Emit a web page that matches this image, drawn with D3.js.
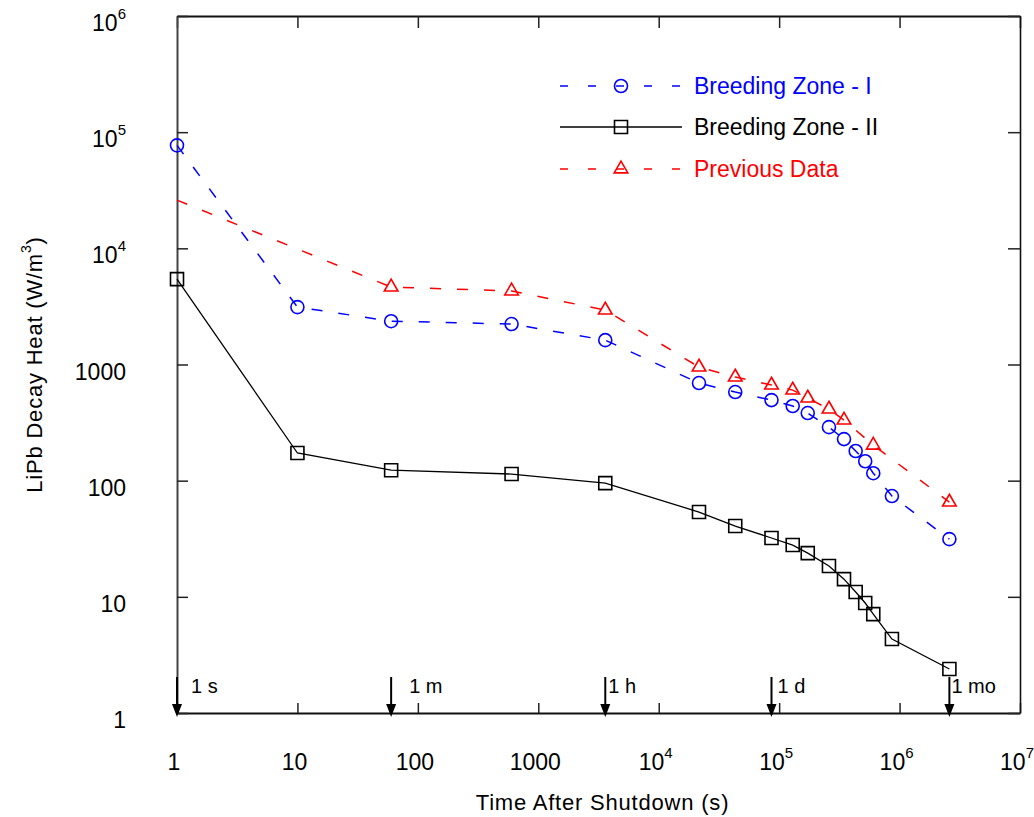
<!DOCTYPE html>
<html>
<head>
<meta charset="utf-8">
<script src="https://cdn.jsdelivr.net/npm/d3@7"></script>
<style>
  html, body { margin: 0; padding: 0; background: #fff; }
  svg { display: block; font-family: Arial, "Liberation Sans", sans-serif; }
</style>
</head>
<body>
<svg id="chart" width="1034" height="817"></svg>
<script>
// ---------- DATA ----------
const timesZone = [1, 10, 60, 600, 3600, 21600, 43200, 86400, 129600, 172800, 259200, 345600, 432000, 518400, 604800, 864000, 2592000];
const zone1 = [77000, 3120, 2360, 2230, 1620, 692, 579, 494, 439, 382, 289, 228, 180, 147, 116, 73.7, 31.4];
const zone2 = [5430, 173, 123, 114, 95.3, 53.7, 40.7, 32.1, 27.9, 23.8, 18.4, 14.2, 11.0, 8.85, 7.1, 4.33, 2.39];
const timesPrev = [1, 60, 600, 3600, 21600, 43200, 86400, 129600, 172800, 259200, 345600, 604800, 2592000];
const prevData = [26000, 4640, 4290, 2940, 950, 779, 665, 602, 514, 413, 332, 202, 65.4];
const prevNoMarker = [0]; // first point of previous data has no marker

const seriesNames = ["Breeding Zone - I", "Breeding Zone - II", "Previous Data"];

const xTickValues = [1, 10, 100, 1000, 1e4, 1e5, 1e6, 1e7];
const xTickLabels = [["1"], ["10"], ["100"], ["1000"], ["10", "4"], ["10", "5"], ["10", "6"], ["10", "7"]];
const yTickValues = [1, 10, 100, 1000, 1e4, 1e5, 1e6];
const yTickLabels = [["1"], ["10"], ["100"], ["1000"], ["10", "4"], ["10", "5"], ["10", "6"]];

const markTimes = [1, 60, 3600, 86400, 2592000];
const markLabels = ["1 s", "1 m", "1 h", "1 d", "1 mo"];

const xTitle = "Time After Shutdown (s)";
const yTitle = ["LiPb Decay Heat (W/m", "3", ")"];

// ---------- LAYOUT ----------
const L = 177, R = 1020, T = 16, B = 713;
const markLabelDx = [14, 18, 3, 6, 2];
const BLUE = "#0000ff", RED = "#ff0000", BLACK = "#000";

const svg = d3.select("#chart");
const x = d3.scaleLog().domain([1, 1e7]).range([L, R]);
const y = d3.scaleLog().domain([1, 1e6]).range([B, T]);

// axes
const gBottom = svg.append("g").attr("transform", `translate(0,${B})`)
  .call(d3.axisBottom(x).tickValues(xTickValues).tickSize(-10).tickSizeOuter(0).tickFormat(""));
const gTop = svg.append("g").attr("transform", `translate(0,${T})`)
  .call(d3.axisTop(x).tickValues(xTickValues).tickSize(-12).tickSizeOuter(0).tickFormat(""));
const gLeft = svg.append("g").attr("transform", `translate(${L},0)`)
  .call(d3.axisLeft(y).tickValues(yTickValues).tickSize(-11).tickSizeOuter(0).tickFormat(""));
const gRight = svg.append("g").attr("transform", `translate(${R},0)`)
  .call(d3.axisRight(y).tickValues(yTickValues).tickSize(-12).tickSizeOuter(0).tickFormat(""));

[gBottom, gTop].forEach(g => {
  g.select(".domain").attr("stroke", "#111").attr("stroke-width", 2);
  g.selectAll(".tick line").attr("stroke", "#222").attr("stroke-width", 1.5);
});
gLeft.select(".domain").attr("stroke", "#444").attr("stroke-width", 2);
gRight.select(".domain").attr("stroke", "#111").attr("stroke-width", 1.6);
[gLeft, gRight].forEach(g => g.selectAll(".tick line").attr("stroke", "#222").attr("stroke-width", 1.5));

// tick labels
function addLabel(sel, parts, attrs) {
  const t = sel.append("text").attr("fill", "#000").attr("font-size", 23);
  Object.entries(attrs).forEach(([k, v]) => t.attr(k, v));
  t.append("tspan").text(parts[0]);
  if (parts.length > 1) {
    t.append("tspan").attr("font-size", 15).attr("dy", -12).text(parts[1]);
  }
  return t;
}
xTickValues.forEach((v, i) => {
  addLabel(svg, xTickLabels[i], { x: x(v) - 3, y: 770, "text-anchor": "middle" });
});
yTickValues.forEach((v, i) => {
  addLabel(svg, yTickLabels[i], { x: 126, y: y(v) + 15, "text-anchor": "end" });
});

// axis titles
svg.append("text").attr("x", (L + R) / 2 + 4).attr("y", 810).attr("text-anchor", "middle")
  .attr("font-size", 22).attr("letter-spacing", 0.8).attr("fill", "#000").text(xTitle);
const yt = svg.append("text").attr("transform", `translate(42,${(T + B) / 2}) rotate(-90)`)
  .attr("text-anchor", "middle").attr("font-size", 22).attr("letter-spacing", 0.8).attr("fill", "#000");
yt.append("tspan").text(yTitle[0]);
yt.append("tspan").attr("font-size", 14).attr("dy", -11).text(yTitle[1]);
yt.append("tspan").attr("dy", 11).text(yTitle[2]);

// lines
const line = d3.line().x(d => x(d[0])).y(d => y(d[1]));
const z1 = timesZone.map((t, i) => [t, zone1[i]]);
const z2 = timesZone.map((t, i) => [t, zone2[i]]);
const pv = timesPrev.map((t, i) => [t, prevData[i]]);
const DASH = "11,16";

svg.append("path").datum(pv).attr("d", line).attr("fill", "none")
  .attr("stroke", RED).attr("stroke-width", 1.5).attr("stroke-dasharray", DASH);
svg.append("path").datum(z1).attr("d", line).attr("fill", "none")
  .attr("stroke", BLUE).attr("stroke-width", 1.5).attr("stroke-dasharray", DASH);
svg.append("path").datum(z2).attr("d", line).attr("fill", "none")
  .attr("stroke", BLACK).attr("stroke-width", 1.3);

// markers
const circ = d3.symbol().type(d3.symbolCircle).size(Math.PI * 6.5 * 6.5);
const sq = d3.symbol().type(d3.symbolSquare).size(13 * 13);
const tri = d3.symbol().type(d3.symbolTriangle).size(80);

svg.append("g").selectAll("path").data(z1).join("path")
  .attr("d", circ).attr("transform", d => `translate(${x(d[0])},${y(d[1])})`)
  .attr("fill", "none").attr("stroke", BLUE).attr("stroke-width", 1.6);
svg.append("g").selectAll("path").data(z2).join("path")
  .attr("d", sq).attr("transform", d => `translate(${x(d[0])},${y(d[1])})`)
  .attr("fill", "none").attr("stroke", BLACK).attr("stroke-width", 1.6);
svg.append("g").selectAll("path").data(pv.filter((d, i) => !prevNoMarker.includes(i))).join("path")
  .attr("d", tri).attr("transform", d => `translate(${x(d[0])},${y(d[1])})`)
  .attr("fill", "none").attr("stroke", RED).attr("stroke-width", 1.6);

// time marker arrows
markTimes.forEach((t, i) => {
  const ax = x(t);
  svg.append("line").attr("x1", ax).attr("x2", ax).attr("y1", 677).attr("y2", 706)
    .attr("stroke", "#000").attr("stroke-width", 2);
  svg.append("path").attr("d", `M${ax - 5},${704} L${ax + 5},${704} L${ax},${717} Z`).attr("fill", "#000");
  svg.append("text").attr("x", ax + markLabelDx[i]).attr("y", 693).attr("font-size", 20)
    .attr("fill", "#000").text(markLabels[i]);
});

// legend
const legRows = [
  { name: seriesNames[0], color: BLUE, dash: DASH, sym: circ, ly: 86 },
  { name: seriesNames[1], color: BLACK, dash: null, sym: sq, ly: 127 },
  { name: seriesNames[2], color: RED, dash: DASH, sym: tri, ly: 169 }
];
legRows.forEach(r => {
  const l = svg.append("line").attr("x1", 560).attr("x2", 682).attr("y1", r.ly).attr("y2", r.ly)
    .attr("stroke", r.color).attr("stroke-width", r.dash ? 1.5 : 1.3);
  if (r.dash) l.attr("stroke-dasharray", "8,20");
  svg.append("path").attr("d", r.sym).attr("transform", `translate(621,${r.ly})`)
    .attr("fill", "none").attr("stroke", r.color).attr("stroke-width", 1.6);
  svg.append("text").attr("x", 694).attr("y", r.ly + 8).attr("font-size", 23)
    .attr("fill", r.color).text(r.name);
});
</script>
</body>
</html>
